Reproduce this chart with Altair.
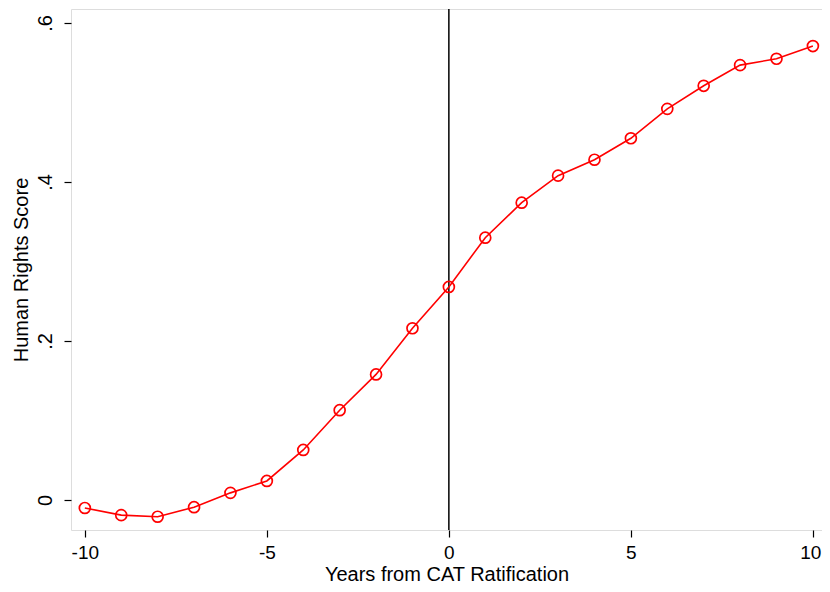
import altair as alt
import pandas as pd

years = list(range(-10, 11))
scores = [-0.010, -0.019, -0.021, -0.009, 0.009, 0.024, 0.063, 0.113, 0.158, 0.216,
          0.268, 0.330, 0.374, 0.408, 0.428, 0.455, 0.492, 0.521, 0.547, 0.555, 0.571]
y_ticks = [0, 0.2, 0.4, 0.6]
x_ticks = [-10, -5, 0, 5, 10]

df = pd.DataFrame({"year": years, "score": scores})
vline = pd.DataFrame({"x": [0]})

font = "Liberation Sans"
xscale = alt.Scale(domain=[-10.38, 10.25], nice=False, zero=False)
yscale = alt.Scale(domain=[-0.0377, 0.6176], nice=False, zero=False)

xaxis = alt.Axis(values=x_ticks, title="Years from CAT Ratification", grid=False,
                 labelExpr="datum.value < 0 ? '-' + abs(datum.value) : '' + datum.value",
                 labelFont=font, titleFont=font, labelFontSize=19, titleFontSize=20,
                 titleFontWeight="normal", labelColor="black", titleColor="black",
                 tickColor="black", tickSize=7, tickWidth=1.2,
                 labelBaseline="alphabetic", labelPadding=21,
                 labelFlush=10, labelFlushOffset=8,
                 titleBaseline="alphabetic", titleY=50,
                 domain=False)
yaxis = alt.Axis(values=y_ticks, title="Human Rights Score", grid=False,
                 labelExpr="datum.value == 0 ? '0' : replace(format(datum.value, '.1f'), '0.', '.')",
                 labelAngle=-90, labelAlign="center", labelBaseline="alphabetic",
                 labelFont=font, titleFont=font, labelFontSize=20, titleFontSize=20,
                 titleFontWeight="normal", labelColor="black", titleColor="black",
                 tickColor="black", tickSize=7, tickWidth=1.2, labelPadding=13,
                 titleBaseline="alphabetic", titleX=-44,
                 domain=False, labelFlush=False)

line = alt.Chart(df).mark_line(color="#ff0000", strokeWidth=1.6).encode(
    x=alt.X("year:Q", scale=xscale, axis=xaxis),
    y=alt.Y("score:Q", scale=yscale, axis=yaxis),
)
pts = alt.Chart(df).mark_point(shape="circle", filled=False, color="#ff0000",
                                size=120, strokeWidth=1.7, opacity=1).encode(
    x=alt.X("year:Q", scale=xscale),
    y=alt.Y("score:Q", scale=yscale),
)
rule = alt.Chart(vline).mark_rule(color="black", strokeWidth=1.5).encode(
    x=alt.X("x:Q", scale=xscale)
)

chart = alt.layer(rule, line, pts).properties(
    width=751, height=521,
    autosize=alt.AutoSizeParams(type="none"),
    padding={"left": 63, "top": 1, "right": 0, "bottom": 54},
).configure_view(stroke="black", strokeWidth=1.5).configure(background="white")

chart.save("out.html", embed_options={"renderer": "svg", "actions": False})
